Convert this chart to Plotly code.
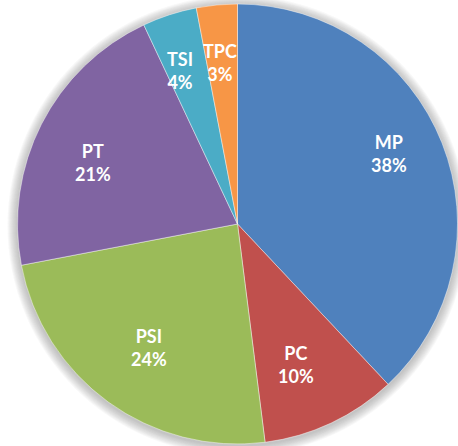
import math
import plotly.graph_objects as go

# Share of each category
categories = ["MP", "PC", "PSI", "PT", "TSI", "TPC"]
shares = [38, 10, 24, 21, 4, 3]
colors = ["#4F81BD", "#C0504D", "#9BBB59", "#8064A2", "#4BACC6", "#F79646"]

W, H = 458, 446
CX, CY, R = 237.5, 224.0, 220.0  # pie centre / radius in pixels
LABEL_FRAC = 0.84                  # radial position of the labels

fig = go.Figure()
fig.add_trace(go.Pie(
    labels=categories,
    values=shares,
    marker=dict(colors=colors, line=dict(color="rgba(255,255,255,0.55)", width=0.8)),
    sort=False,
    direction="clockwise",
    rotation=0,
    textinfo="none",
    hoverinfo="label+percent",
    showlegend=False,
    domain=dict(x=[(CX - R) / W, (CX + R) / W], y=[1 - (CY + R) / H, 1 - (CY - R) / H]),
))

# soft shadow around the pie
shapes = []
for k in range(10, 0, -1):
    rr = R + k
    shapes.append(dict(
        type="circle", xref="paper", yref="paper", layer="below",
        x0=(CX - rr) / W, x1=(CX + rr) / W,
        y0=1 - (CY + 1.5 + rr) / H, y1=1 - (CY + 1.5 - rr) / H,
        fillcolor="rgba(120,120,120,0.05)", line=dict(width=0),
    ))

# labels at the middle angle of each slice
total = sum(shares)
annotations = []
cum = 0
for name, v in zip(categories, shares):
    mid = (cum + v / 2) / total * 2 * math.pi
    cum += v
    x_px = CX + LABEL_FRAC * R * math.sin(mid)
    y_px = CY - LABEL_FRAC * R * math.cos(mid) - 2
    annotations.append(dict(
        x=x_px / W, y=1 - y_px / H, xref="paper", yref="paper",
        text=f"<b>{name}<br>{round(v / total * 100)}%</b>",
        showarrow=False, align="center",
        font=dict(family="Lato", size=18, color="white"),
    ))

fig.update_layout(
    width=W, height=H,
    margin=dict(l=0, r=0, t=0, b=0),
    paper_bgcolor="white",
    plot_bgcolor="white",
    shapes=shapes,
    annotations=annotations,
)

fig.write_html("out.html")
